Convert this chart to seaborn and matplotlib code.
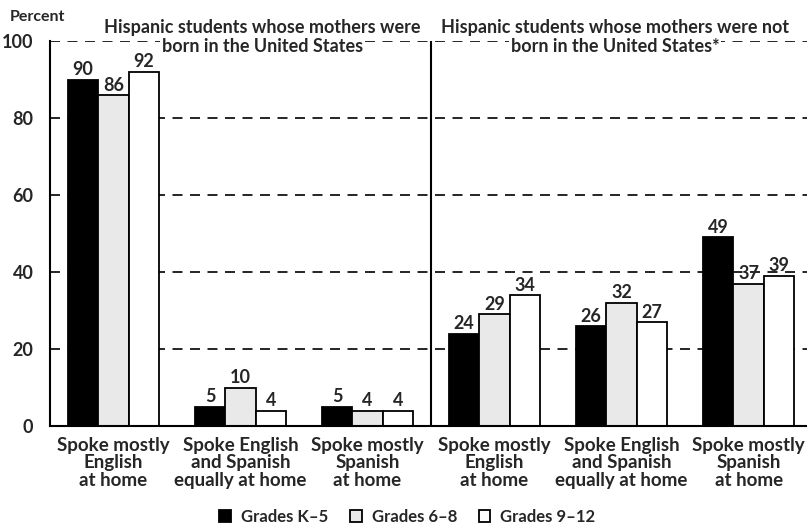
import matplotlib
matplotlib.use('Agg')

import matplotlib.pyplot as plt
import pandas as pd
import seaborn as sns

# data
group_ids = ["us_eng", "us_both", "us_spa", "nonus_eng", "nonus_both", "nonus_spa"]
tick_labels = [
    "Spoke mostly\nEnglish\nat home",
    "Spoke English\nand Spanish\nequally at home",
    "Spoke mostly\nSpanish\nat home",
    "Spoke mostly\nEnglish\nat home",
    "Spoke English\nand Spanish\nequally at home",
    "Spoke mostly\nSpanish\nat home",
]
grade_names = ["Grades K\u20135", "Grades 6\u20138", "Grades 9\u201312"]
grades_k5 = [90, 5, 5, 24, 26, 49]
grades_68 = [86, 10, 4, 29, 32, 37]
grades_912 = [92, 4, 4, 34, 27, 39]

panel_titles = [
    ("Hispanic students whose mothers were", "born in the United States"),
    ("Hispanic students whose mothers were not", "born in the United States*"),
]

rows = []
for grade, vals in zip(grade_names, [grades_k5, grades_68, grades_912]):
    for g, v in zip(group_ids, vals):
        rows.append({"group": g, "grade": grade, "percent": v})
df = pd.DataFrame(rows)

sns.set_style("white")
plt.rcParams['font.family'] = ['Lato', 'DejaVu Sans']
plt.rcParams['font.weight'] = 'bold'

fig = plt.figure(figsize=(8.07, 5.26), dpi=100)
ax = fig.add_axes([50 / 807, 100 / 526, 1 - 50 / 807, 385 / 526])

colors = ["#000000", "#e9e9e9", "#ffffff"]

sns.barplot(
    data=df,
    x="group",
    y="percent",
    hue="grade",
    order=group_ids,
    hue_order=grade_names,
    palette=colors,
    saturation=1,
    width=0.72,
    edgecolor="black",
    linewidth=1.3,
    ax=ax,
)

for container in ax.containers:
    ax.bar_label(container, fmt="%d", padding=1, fontsize=13, fontweight='bold')

ax.set_xlim(-0.5, 5.46)
ax.set_ylim(0, 100)
ax.set_yticks([0, 20, 40, 60, 80, 100])
ax.set_xticks(range(len(group_ids)))
ax.set_xticklabels(tick_labels, fontsize=13.5, linespacing=1.02)
ax.tick_params(axis='y', labelsize=13, pad=12, length=0)
ax.tick_params(axis='x', length=0, pad=8)
ax.set_xlabel("")
ax.set_ylabel("")

ax.yaxis.grid(True, linestyle=(0, (6, 4.5)), color="black", linewidth=1.2)
ax.set_axisbelow(True)

for side in ["top", "right"]:
    ax.spines[side].set_visible(False)
ax.spines["left"].set_color("black")
ax.spines["left"].set_linewidth(1.5)
ax.spines["bottom"].set_color("black")
ax.spines["bottom"].set_linewidth(1.5)

# divider between the two panels
ax.axvline(2.5, color="black", linewidth=1.5)

# panel titles
for xc, (line1, line2) in zip([1.17, 3.95], panel_titles):
    ax.text(xc, 103.6, line1, ha="center", va="center", fontsize=13, clip_on=False)
    ax.text(xc, 98.6, line2, ha="center", va="center", fontsize=13, clip_on=False,
            bbox=dict(facecolor="white", edgecolor="none", pad=1))

fig.text(10 / 807, 1 - 17 / 526, "Percent", ha="left", va="center", fontsize=11.5)

sns.move_legend(
    ax, "center",
    bbox_to_anchor=(0.472, -0.236),
    ncol=3,
    frameon=False,
    title=None,
    fontsize=12,
    handlelength=0.7,
    handleheight=0.7,
    handletextpad=0.6,
    columnspacing=1.3,
)

plt.savefig("out.png", dpi=100)
plt.close()
